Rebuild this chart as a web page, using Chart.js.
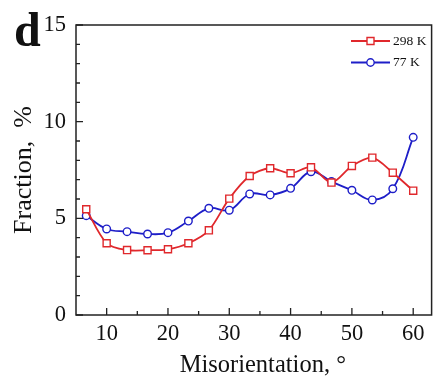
<!DOCTYPE html>
<html>
<head>
<meta charset="utf-8">
<script src="https://cdn.jsdelivr.net/npm/chart.js@4/dist/chart.umd.min.js"></script>
<style>
html,body{margin:0;padding:0;background:#fff;}
#wrap{width:438px;height:381px;position:relative;}
</style>
</head>
<body>
<div id="wrap"><canvas id="c" width="438" height="381"></canvas></div>
<script>
const misorientation = [6.67, 10, 13.33, 16.67, 20, 23.33, 26.67, 30, 33.33, 36.67, 40, 43.33, 46.67, 50, 53.33, 56.67, 60];
const fraction298K = [5.47, 3.71, 3.36, 3.35, 3.40, 3.71, 4.38, 6.02, 7.19, 7.59, 7.33, 7.64, 6.85, 7.71, 8.14, 7.36, 6.43];
const fraction77K  = [5.14, 4.45, 4.31, 4.19, 4.26, 4.86, 5.52, 5.42, 6.26, 6.21, 6.55, 7.41, 6.90, 6.45, 5.95, 6.53, 9.19];
const seriesLabels = ['298 K', '77 K'];
const xTickValues = [10, 20, 30, 40, 50, 60];
const yTickValues = [0, 5, 10, 15];
const xMinorValues = [15, 25, 35, 45, 55];
const yMinorValues = [1,2,3,4,6,7,8,9,11,12,13,14];
const panelLabel = 'd';
const xTitle = 'Misorientation, \u00B0';
const yTitle = 'Fraction,  %';

const RED = '#e0282c';
const BLUE = '#1e1ec8';
const FONT = "'Liberation Serif', 'Times New Roman', serif";

const framePlugin = {
  id: 'frame',
  afterDraw(chart) {
    const ctx = chart.ctx;
    const a = chart.chartArea;
    const xs = chart.scales.x, ys = chart.scales.y;
    ctx.save();
    ctx.strokeStyle = '#222';
    ctx.lineWidth = 1.5;
    ctx.strokeRect(a.left, a.top, a.right - a.left, a.bottom - a.top);
    ctx.lineWidth = 1.3;
    ctx.beginPath();
    xTickValues.forEach(v => { const p = xs.getPixelForValue(v); ctx.moveTo(p, a.bottom); ctx.lineTo(p, a.bottom - 7); });
    xMinorValues.forEach(v => { const p = xs.getPixelForValue(v); ctx.moveTo(p, a.bottom); ctx.lineTo(p, a.bottom - 4); });
    yTickValues.forEach(v => { const p = ys.getPixelForValue(v); ctx.moveTo(a.left, p); ctx.lineTo(a.left + 7, p); });
    yMinorValues.forEach(v => { const p = ys.getPixelForValue(v); ctx.moveTo(a.left, p); ctx.lineTo(a.left + 4, p); });
    ctx.stroke();

    // panel label
    ctx.fillStyle = '#111';
    ctx.font = "bold 48px " + FONT;
    ctx.textAlign = 'left';
    ctx.textBaseline = 'alphabetic';
    ctx.fillText(panelLabel, 14, 46);

    // x-axis title (centred slightly right of the plot centre, as in the reference)
    ctx.font = "24.5px " + FONT;
    ctx.textAlign = 'center';
    ctx.textBaseline = 'middle';
    ctx.fillText(xTitle, (a.left + a.right) / 2 + 9, 366);

    // legend
    const ds = chart.data.datasets;
    ctx.font = "13.5px " + FONT;
    ctx.textAlign = 'left';
    ctx.textBaseline = 'middle';
    ds.forEach((d, i) => {
      const y = 41 + i * 21.5;
      const x0 = 351, x1 = 390, xm = 370.5;
      ctx.strokeStyle = d.borderColor;
      ctx.lineWidth = 1.8;
      ctx.beginPath(); ctx.moveTo(x0, y); ctx.lineTo(x1, y); ctx.stroke();
      ctx.fillStyle = '#fff';
      ctx.lineWidth = 1.4;
      ctx.beginPath();
      if (d.pointStyle === 'rect') { ctx.rect(xm - 3.5, y - 3.5, 7, 7); }
      else { ctx.arc(xm, y, 3.7, 0, Math.PI * 2); }
      ctx.fill(); ctx.stroke();
      ctx.fillStyle = '#111';
      ctx.fillText(d.label, 393, y);
    });
    ctx.restore();
  }
};

new Chart(document.getElementById('c'), {
  type: 'line',
  data: {
    datasets: [
      {
        label: seriesLabels[0],
        data: misorientation.map((x, i) => ({x: x, y: fraction298K[i]})),
        borderColor: RED, backgroundColor: '#fff',
        borderWidth: 1.8, pointStyle: 'rect', pointRadius: 5, pointBorderWidth: 1.4,
        pointBackgroundColor: '#fff', tension: 0.3
      },
      {
        label: seriesLabels[1],
        data: misorientation.map((x, i) => ({x: x, y: fraction77K[i]})),
        borderColor: BLUE, backgroundColor: '#fff',
        borderWidth: 1.8, pointStyle: 'circle', pointRadius: 3.8, pointBorderWidth: 1.4,
        pointBackgroundColor: '#fff', tension: 0.4
      }
    ]
  },
  options: {
    responsive: false,
    animation: false,
    layout: { padding: { left: 0, right: 3, top: 25, bottom: 0 } },
    plugins: { legend: { display: false }, tooltip: { enabled: false } },
    scales: {
      x: {
        type: 'linear', min: 5, max: 63,
        afterBuildTicks: s => { s.ticks = xTickValues.map(v => ({value: v})); },
        afterFit: s => { s.height = 66; },
        grid: { display: false, drawTicks: false },
        border: { display: false },
        ticks: { color: '#111', font: { family: FONT, size: 22.5 }, padding: 6, maxRotation: 0, autoSkip: false },
        title: { display: false }
      },
      y: {
        type: 'linear', min: 0, max: 15,
        afterBuildTicks: s => { s.ticks = yTickValues.map(v => ({value: v})); },
        afterFit: s => { s.width = 76; },
        grid: { display: false, drawTicks: false },
        border: { display: false },
        ticks: { color: '#111', font: { family: FONT, size: 22.5 }, padding: 10 },
        title: { display: true, text: yTitle, color: '#111', font: { family: FONT, size: 26 }, padding: { top: 9, bottom: 0 } }
      }
    }
  },
  plugins: [framePlugin]
});
</script>
</body>
</html>
